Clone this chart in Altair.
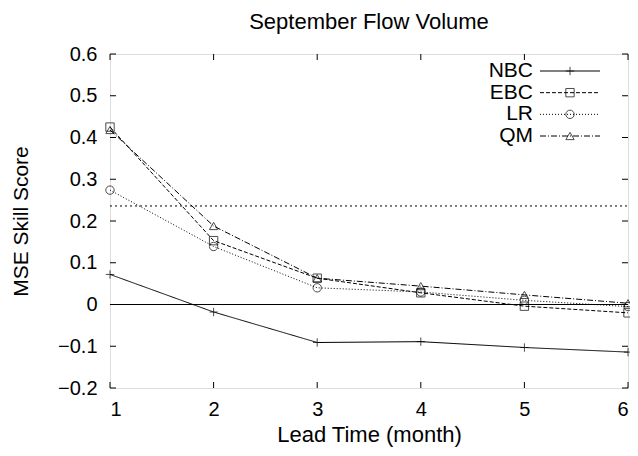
import altair as alt
import pandas as pd

lead = [1, 2, 3, 4, 5, 6]
methods = ["NBC", "EBC", "LR", "QM"]
nbc = [0.072, -0.018, -0.091, -0.089, -0.103, -0.114]
ebc = [0.425, 0.153, 0.063, 0.028, -0.004, -0.020]
lr = [0.274, 0.139, 0.040, 0.030, 0.010, -0.005]
qm = [0.418, 0.188, 0.063, 0.044, 0.023, 0.003]
ref_level = 0.236
y_ticks = [-0.2, -0.1, 0.0, 0.1, 0.2, 0.3, 0.4, 0.5, 0.6]
x_ticks = [1, 2, 3, 4, 5, 6]

series = {"NBC": nbc, "EBC": ebc, "LR": lr, "QM": qm}
rows = []
for m in methods:
    for t, v in zip(lead, series[m]):
        rows.append({"lead": t, "mse": v, "method": m})
df = pd.DataFrame(rows)
leg = pd.DataFrame({"method": methods})
ydf = pd.DataFrame({"v": y_ticks})
xdf = pd.DataFrame({"v": x_ticks})
refdf = pd.DataFrame({"v": [ref_level]})
zdf = pd.DataFrame({"v": [0.0]})

W, H = 518, 334
FONT = "Liberation Sans"
LFS = 20
TICK = 6

xs = alt.Scale(domain=[1, 6], nice=False, zero=False)
ys = alt.Scale(domain=[-0.2, 0.6], nice=False, zero=False)
dash = alt.Scale(domain=methods, range=[[1, 0], [4, 2], [1, 2], [6, 2, 1, 2]])
PLUS = "M-1,0H1M0,-1V1"
shape = alt.Scale(domain=methods, range=[PLUS, "square", "circle", "triangle-up"])

base = alt.Chart(df)

lines = base.mark_line(color="black", strokeWidth=1).encode(
    x=alt.X("lead:Q", scale=xs,
            axis=alt.Axis(values=x_ticks, format="d", ticks=False, domain=False, grid=False,
                          title="Lead Time (month)", labelPadding=11, titlePadding=5,
                          labelFontSize=LFS, titleFontSize=22, labelFont=FONT, titleFont=FONT,
                          titleFontWeight="normal", labelColor="black", titleColor="black")),
    y=alt.Y("mse:Q", scale=ys,
            axis=alt.Axis(values=y_ticks, format=".1~f", ticks=False, domain=False, grid=False,
                          title="MSE Skill Score", labelPadding=13, titlePadding=26,
                          labelFontSize=LFS, titleFontSize=21, labelFont=FONT, titleFont=FONT,
                          titleFontWeight="normal", labelColor="black", titleColor="black")),
    strokeDash=alt.StrokeDash("method:N", scale=dash, legend=None),
    detail="method:N",
)

points = base.mark_point(color="black", filled=False, strokeWidth=1, size=70).encode(
    x=alt.X("lead:Q", scale=xs),
    y=alt.Y("mse:Q", scale=ys),
    shape=alt.Shape("method:N", scale=shape, legend=None),
)

zero_line = alt.Chart(zdf).mark_rule(color="black", strokeWidth=1).encode(
    y=alt.Y("v:Q", scale=ys), x=alt.value(0), x2=alt.value(W))
ref_line = alt.Chart(refdf).mark_rule(color="black", strokeWidth=1, strokeDash=[2, 3]).encode(
    y=alt.Y("v:Q", scale=ys), x=alt.value(0), x2=alt.value(W))

lt = alt.Chart(ydf).mark_rule(color="black").encode(
    y=alt.Y("v:Q", scale=ys), x=alt.value(0), x2=alt.value(TICK))
rt = alt.Chart(ydf).mark_rule(color="black").encode(
    y=alt.Y("v:Q", scale=ys), x=alt.value(W - TICK), x2=alt.value(W))
bt = alt.Chart(xdf).mark_rule(color="black").encode(
    x=alt.X("v:Q", scale=xs), y=alt.value(H - TICK), y2=alt.value(H))
tt = alt.Chart(xdf).mark_rule(color="black").encode(
    x=alt.X("v:Q", scale=xs), y=alt.value(0), y2=alt.value(TICK))

main = alt.layer(zero_line, ref_line, lt, rt, bt, tt, lines, points)

ly = alt.Y("method:N", sort=methods,
           scale=alt.Scale(type="point", domain=methods, range=[17, 82], padding=0), axis=None)
leg_text = alt.Chart(leg).mark_text(align="right", baseline="middle", fontSize=21, font=FONT,
                                    color="black").encode(
    y=ly, x=alt.value(423), text="method:N")
leg_line = alt.Chart(leg).mark_rule(color="black", strokeWidth=1).encode(
    y=ly, x=alt.value(430), x2=alt.value(490),
    strokeDash=alt.StrokeDash("method:N", scale=dash, legend=None))
leg_pt = alt.Chart(leg).mark_point(color="black", filled=False, strokeWidth=1, size=70).encode(
    y=ly, x=alt.value(460), shape=alt.Shape("method:N", scale=shape, legend=None))
legend = alt.layer(leg_text, leg_line, leg_pt)

chart = alt.layer(main, legend).resolve_scale(y="independent").properties(
    width=W, height=H,
    title=alt.TitleParams("September Flow Volume", fontSize=22, font=FONT, fontWeight="normal",
                          color="black", offset=10),
    padding={"left": 102, "top": 46, "right": 2, "bottom": 60},
    autosize=alt.AutoSizeParams(type="none"),
).configure_view(stroke="black", strokeWidth=1).configure(background="white")

chart.save("out.html", embed_options={"renderer": "svg", "actions": False})
